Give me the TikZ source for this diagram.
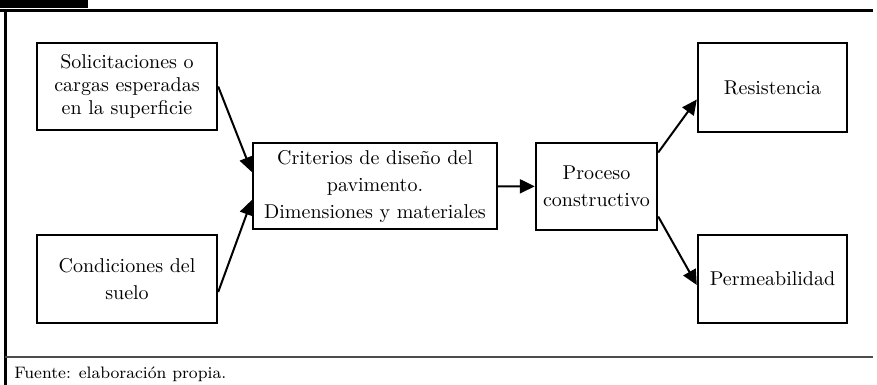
\documentclass[tikz,border=0pt]{standalone}
\usepackage{amsmath}
\usepackage{tikz}
\usetikzlibrary{positioning,arrows.meta,shapes}
\usepackage{xcolor}

\tikzset{
    caja/.style={draw, line width=1.2pt, rectangle, align=center, inner sep=2pt,
        font=\fontsize{10}{13.5}\selectfont},
    flecha/.style={line width=1pt, -{Triangle[length=7.5pt,width=7pt]}}
}

\begin{document}
\begin{tikzpicture}[x=0.5pt, y=-0.5pt]
        \useasboundingbox (0,0) rectangle (877,385);

        % Frame
        \fill (0,0) rectangle (88,8);
        \draw[line width=1.5pt] (0,10.5) -- (873,10.5);
        \draw[line width=1.2pt] (5.5,10) -- (5.5,385);
        \draw[line width=1pt, black!70] (5,357) -- (873,357);

        % Input boxes
        \node[caja, minimum width=90pt, minimum height=43.5pt, font=\fontsize{10}{11.5}\selectfont] (sol) at (127,86.5) {Solicitaciones o\\cargas esperadas\\en la superficie};
        \node[caja, minimum width=90pt, minimum height=44pt] (cond) at (127,279) {Condiciones del\\suelo};

        % Design criteria
        \node[caja, minimum width=122pt, minimum height=43pt] (crit) at (375,186) {Criterios de diseño del\\pavimento.\\Dimensiones y materiales};
        \draw[flecha] (sol.east) -- ([yshift=7pt]crit.west);
        \draw[flecha] ([yshift=-6.5pt]cond.east) -- ([yshift=-7pt]crit.west);

        % Construction process
        \node[caja, minimum width=60.5pt, minimum height=43.5pt] (proc) at (596.5,186.5) {Proceso\\constructivo};
        \draw[flecha] (crit) -- (proc);

        % Outputs
        \node[caja, minimum width=74.5pt, minimum height=44.5pt] (res) at (772.5,87.5) {Resistencia};
        \node[caja, minimum width=74.5pt, minimum height=44pt] (perm) at (772.5,279) {Permeabilidad};
        \draw[flecha] ([yshift=17pt]proc.east) -- ([yshift=-6pt]res.west);
        \draw[flecha] ([yshift=-15pt]proc.east) -- ([yshift=-3pt]perm.west);

        % Source
        \node[anchor=west, font=\fontsize{8.3}{10}\selectfont, inner sep=0pt] (fuente) at (14,374) {Fuente: elaboración propia.};
    \end{tikzpicture}
\end{document}
